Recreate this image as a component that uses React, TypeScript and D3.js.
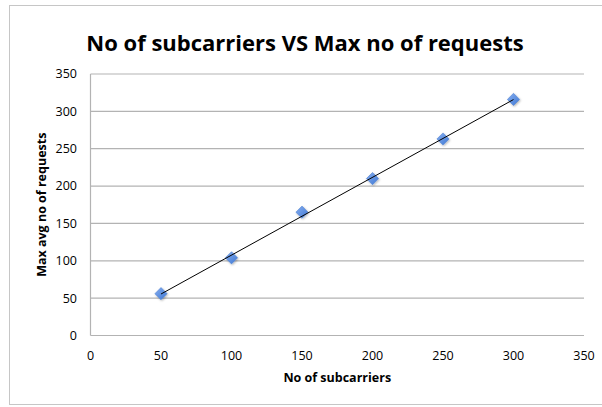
import React from "react";
import * as d3 from "d3";

const subcarriers = [50, 100, 150, 200, 250, 300];
const maxRequests = [56, 104, 165, 210, 263, 316];
const xTicks = [0, 50, 100, 150, 200, 250, 300, 350];
const yTicks = [0, 50, 100, 150, 200, 250, 300, 350];
const chartTitle = "No of subcarriers VS Max no of requests";
const xTitle = "No of subcarriers";
const yTitle = "Max avg no of requests";

const W = 602;
const H = 407;
const FONT = "'Open Sans', 'Liberation Sans', sans-serif";

export default function App() {
  const x = d3.scaleLinear().domain([0, 350]).range([90.5, 584]);
  const y = d3.scaleLinear().domain([0, 350]).range([335.5, 74]);

  // linear trendline (least squares)
  const mx = d3.mean(subcarriers) as number;
  const my = d3.mean(maxRequests) as number;
  let sxy = 0, sxx = 0;
  subcarriers.forEach((v, i) => {
    sxy += (v - mx) * (maxRequests[i] - my);
    sxx += (v - mx) * (v - mx);
  });
  const slope = sxy / sxx;
  const intercept = my - slope * mx;
  const xmin = d3.min(subcarriers) as number;
  const xmax = d3.max(subcarriers) as number;
  const trend = d3.line<number>()
    .x((d) => x(d))
    .y((d) => y(intercept + slope * d));

  const diamond = d3.symbol().type(d3.symbolDiamond2).size(95)();

  return (
    <svg
      width={W}
      height={H}
      style={{ position: "absolute", left: 0, top: 0, background: "#fff" }}
    >
      <defs>
        <linearGradient id="mk" x1="0" y1="0" x2="1" y2="1">
          <stop offset="0%" stopColor="#86aef0" />
          <stop offset="100%" stopColor="#3f78d4" />
        </linearGradient>
        <filter id="sh" x="-50%" y="-50%" width="200%" height="200%">
          <feDropShadow dx="0.8" dy="1" stdDeviation="0.8" floodColor="#000" floodOpacity="0.3" />
        </filter>
      </defs>
      <rect x={9.5} y={5.5} width={620} height={399} fill="#fff" stroke="#c6c6c6" strokeWidth={1} />
      <text
        x={305}
        y={51}
        textAnchor="middle"
        fontFamily={FONT}
        fontWeight="bold"
        fontSize={22}
        fill="#000"
      >
        {chartTitle}
      </text>
      {/* gridlines */}
      {yTicks.map((t) => (
        <line
          key={"g" + t}
          x1={x(0)}
          x2={x(350)}
          y1={y(t)}
          y2={y(t)}
          stroke="#b3b3b3"
          strokeWidth={1.2}
        />
      ))}
      {/* y axis */}
      <line x1={x(0)} x2={x(0)} y1={y(0)} y2={y(350)} stroke="#b3b3b3" strokeWidth={1.2} />
      {yTicks.map((t) => (
        <text
          key={"yl" + t}
          x={77}
          y={y(t)}
          dy="0.35em"
          textAnchor="end"
          fontFamily={FONT}
          fontSize={12.5}
          fill="#000"
        >
          {t}
        </text>
      ))}
      {xTicks.map((t) => (
        <text
          key={"xl" + t}
          x={x(t)}
          y={356}
          dy="0.35em"
          textAnchor="middle"
          fontFamily={FONT}
          fontSize={12.5}
          fill="#000"
        >
          {t}
        </text>
      ))}
      <text
        x={(x(0) + x(350)) / 2}
        y={378}
        dy="0.35em"
        textAnchor="middle"
        fontFamily={FONT}
        fontWeight="bold"
        fontSize={12.5}
        fill="#000"
      >
        {xTitle}
      </text>
      <text
        transform={`translate(42,${(y(0) + y(350)) / 2}) rotate(-90)`}
        dy="0.35em"
        textAnchor="middle"
        fontFamily={FONT}
        fontWeight="bold"
        fontSize={12.5}
        fill="#000"
      >
        {yTitle}
      </text>
      {/* markers */}
      {subcarriers.map((v, i) => (
        <path
          key={"m" + i}
          d={diamond as string}
          transform={`translate(${x(v)},${y(maxRequests[i])})`}
          fill="url(#mk)"
          stroke="#4f82d2"
          strokeWidth={0.6}
          filter="url(#sh)"
        />
      ))}
      {/* trendline */}
      <path d={trend([xmin, xmax]) as string} fill="none" stroke="#000" strokeWidth={1} />
    </svg>
  );
}
